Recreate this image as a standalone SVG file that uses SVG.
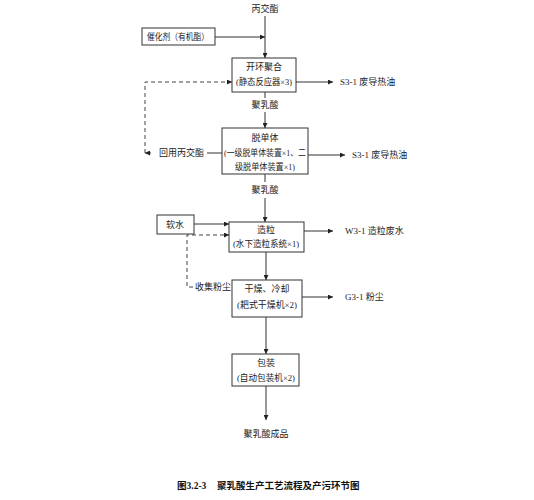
<svg xmlns="http://www.w3.org/2000/svg" width="534" height="500" viewBox="0 0 534 500">
<defs>
<marker id="ah" viewBox="0 0 10 10" refX="10" refY="5" markerWidth="5" markerHeight="5" orient="auto" markerUnits="userSpaceOnUse"><path d="M0,0 L10,5 L0,10 z" fill="#222"/></marker>
<style>
.t{font-family:"Liberation Serif","Noto Sans CJK SC",sans-serif;font-size:9px;fill:#222;text-anchor:middle}
.l{text-anchor:start}
.b{fill:#fff;stroke:#333;stroke-width:1}
.c{fill:none;stroke:#333;stroke-width:1}
.d{fill:none;stroke:#444;stroke-width:1;stroke-dasharray:4,3}
.cap{font-family:"Liberation Serif","Noto Sans CJK SC",serif;font-size:9.5px;font-weight:bold;fill:#111}
</style>
</defs>
<rect width="534" height="500" fill="#fff"/>
<g id="connectors">
<path class="c" d="M265,16 V58" marker-end="url(#ah)"/>
<path class="c" d="M215,37 H265" marker-end="url(#ah)"/>
<path class="c" d="M296,82 H333" marker-end="url(#ah)"/>
<path class="d" d="M145,153 V82 H232" marker-end="url(#ah)"/>
<path class="c" d="M151,153 H145" marker-end="url(#ah)"/>
<path class="c" d="M207,153 H222"/>
<path class="c" d="M265,92 V98"/>
<path class="c" d="M265,112 V128" marker-end="url(#ah)"/>
<path class="c" d="M308,155 H345" marker-end="url(#ah)"/>
<path class="c" d="M265,174 V182"/>
<path class="c" d="M265,198 V222" marker-end="url(#ah)"/>
<path class="c" d="M194,224 H229" marker-end="url(#ah)"/>
<path class="d" d="M193,287 H187 V235 H229" marker-end="url(#ah)"/>
<path class="c" d="M304,231 H333" marker-end="url(#ah)"/>
<path class="c" d="M266,252 V280" marker-end="url(#ah)"/>
<path class="c" d="M302,297 H333" marker-end="url(#ah)"/>
<path class="c" d="M266,317 V354" marker-end="url(#ah)"/>
<path class="c" d="M266,386 V420" marker-end="url(#ah)"/>
</g>
<g id="input-lactide"><text class="t" x="265" y="12">丙交酯</text></g>
<g id="catalyst"><rect class="b" x="142" y="28" width="73" height="17"/><text class="t" x="178" y="40" textLength="62" lengthAdjust="spacingAndGlyphs">催化剂（有机酯）</text></g>
<g id="ring-opening"><rect class="b" x="232" y="58" width="64" height="34"/><text class="t" x="264" y="70">开环聚合</text><text class="t" x="264" y="85" textLength="56" lengthAdjust="spacingAndGlyphs">(静态反应器×3)</text></g>
<g id="s31a"><text class="t l" x="340" y="85">S3-1 废导热油</text></g>
<g id="pla1"><text class="t" x="265" y="108">聚乳酸</text></g>
<g id="recycle"><text class="t l" x="159" y="156">回用丙交酯</text></g>
<g id="demonomer"><rect class="b" x="222" y="128" width="86" height="46"/><text class="t" x="265" y="141">脱单体</text><text class="t" x="265" y="156" textLength="82" lengthAdjust="spacingAndGlyphs">(一级脱单体装置×1、二</text><text class="t" x="265" y="170" textLength="60" lengthAdjust="spacingAndGlyphs">级脱单体装置×1)</text></g>
<g id="s31b"><text class="t l" x="352" y="158">S3-1 废导热油</text></g>
<g id="pla2"><text class="t" x="265" y="193">聚乳酸</text></g>
<g id="soft-water"><rect class="b" x="157" y="215" width="37" height="19"/><text class="t" x="175" y="228">软水</text></g>
<g id="pelletizing"><rect class="b" x="229" y="222" width="75" height="30"/><text class="t" x="266" y="233">造粒</text><text class="t" x="266" y="247" textLength="66" lengthAdjust="spacingAndGlyphs">(水下造粒系统×1)</text></g>
<g id="w31"><text class="t l" x="345" y="234">W3-1 造粒废水</text></g>
<g id="dust-collect"><text class="t l" x="195" y="290">收集粉尘</text></g>
<g id="drying"><rect class="b" x="232" y="280" width="70" height="37"/><text class="t" x="267" y="292">干燥、冷却</text><text class="t" x="267" y="308" textLength="60" lengthAdjust="spacingAndGlyphs">(耙式干燥机×2)</text></g>
<g id="g31"><text class="t l" x="345" y="300">G3-1 粉尘</text></g>
<g id="packaging"><rect class="b" x="232" y="354" width="67" height="32"/><text class="t" x="266" y="366">包装</text><text class="t" x="266" y="381" textLength="58" lengthAdjust="spacingAndGlyphs">(自动包装机×2)</text></g>
<g id="product"><text class="t" x="266" y="437">聚乳酸成品</text></g>
<text class="cap" x="177" y="489">图3.2-3<tspan x="217">聚乳酸生产工艺流程及产污环节图</tspan></text>
</svg>
